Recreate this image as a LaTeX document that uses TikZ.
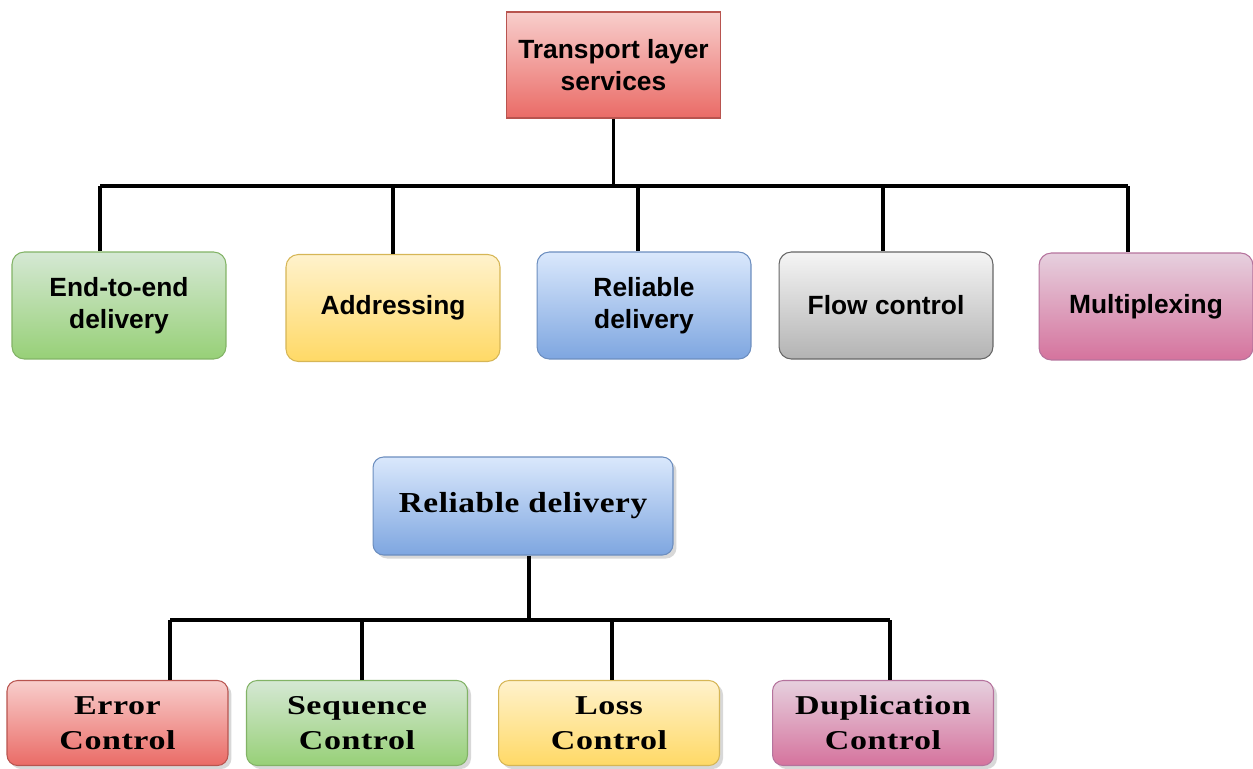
\documentclass[tikz,border=0pt]{standalone}
\usepackage{fontspec}
\setmainfont{Liberation Serif}
\setsansfont{Liberation Sans}
\newfontfamily\subfont[FakeStretch = 1.25, LetterSpace = 2]{Liberation Serif}
\newfontfamily\headfont[FakeStretch = 1.15, LetterSpace = 2]{Liberation Serif}
\usepackage{tikz}
\usetikzlibrary{positioning}
\usetikzlibrary{shadows}
\tikzset{box/.style = {draw, rounded corners = 7pt, line width = 0.6pt, align = center,
    minimum width = 4.28cm, minimum height = 2.14cm, font = \sffamily\bfseries\fontsize{15}{18}\selectfont}}
\tikzset{subbox/.style = {box, minimum width = 4.42cm, minimum height = 1.7cm, rounded corners = 6pt,
    drop shadow = {shadow xshift = 2pt, shadow yshift = -2pt, fill = black!30},
    font = \subfont\bfseries\fontsize{15.5}{20}\selectfont}}
\tikzset{wire/.style = {line width = 1.8pt}}
\definecolor{mred}{rgb}{0.72, 0.33, 0.31}
\definecolor{mredt}{HTML}{F8CECC}
\definecolor{mredb}{HTML}{EA6B66}
\definecolor{mgreen}{HTML}{82B366}
\definecolor{mgreent}{HTML}{D5E8D4}
\definecolor{mgreenb}{HTML}{97D077}
\definecolor{myellow}{HTML}{D6B656}
\definecolor{myellowt}{HTML}{FFF2CC}
\definecolor{myellowb}{HTML}{FFD966}
\definecolor{mblue}{HTML}{6C8EBF}
\definecolor{mbluet}{HTML}{DAE8FC}
\definecolor{mblueb}{HTML}{7EA6E0}
\definecolor{mgray}{HTML}{666666}
\definecolor{mgrayt}{HTML}{F5F5F5}
\definecolor{mgrayb}{HTML}{B3B3B3}
\definecolor{mpink}{HTML}{B5739D}
\definecolor{mpinkt}{HTML}{E6D0DE}
\definecolor{mpinkb}{HTML}{D5739D}

\begin{document}
\begin{tikzpicture}[x = 0.02cm, y = -0.02cm]
      \useasboundingbox (0, 0) rectangle (1253, 768);

      % upper tree
      \node [box, rounded corners = 0pt, draw = mred, top color = mredt, bottom color = mredb,
        minimum height = 2.12cm] (tls) at (613.5, 65) {Transport layer\\services};
      \node [box, draw = mgreen, top color = mgreent, bottom color = mgreenb] (e2e) at (119, 305.5) {End-to-end\\delivery};
      \node [box, draw = myellow, top color = myellowt, bottom color = myellowb] (addr) at (393, 308) {Addressing};
      \node [box, draw = mblue, top color = mbluet, bottom color = mblueb] (rel) at (644, 305.5) {Reliable\\delivery};
      \node [box, draw = mgray, top color = mgrayt, bottom color = mgrayb] (flow) at (886, 305.5) {Flow control};
      \node [box, draw = mpink, top color = mpinkt, bottom color = mpinkb] (mux) at (1146, 306.5) {Multiplexing};

      \coordinate (bus) at (613.5, 186);
      \coordinate (t1) at (100, 186);
      \coordinate (t2) at (393, 186);
      \coordinate (t3) at (638, 186);
      \coordinate (t4) at (883, 186);
      \coordinate (t5) at (1128, 186);
      \draw [wire] (tls.south) -- (bus);
      \draw [wire] (t1) -- (t5);
      \draw [wire] (t1) -- (t1 |- e2e.north);
      \draw [wire] (t2) -- (t2 |- addr.north);
      \draw [wire] (t3) -- (t3 |- rel.north);
      \draw [wire] (t4) -- (t4 |- flow.north);
      \draw [wire] (t5) -- (t5 |- mux.north);

      % lower tree
      \node [subbox, draw = mblue, top color = mbluet, bottom color = mblueb, minimum width = 6cm,
        minimum height = 1.96cm, font = \headfont\bfseries\fontsize{16.5}{20}\selectfont] (relsub) at (523, 506) {Reliable delivery};
      \node [subbox, draw = mred, top color = mredt, bottom color = mredb] (err) at (117.5, 723) {Error\\Control};
      \node [subbox, draw = mgreen, top color = mgreent, bottom color = mgreenb] (seq) at (357, 723) {Sequence\\Control};
      \node [subbox, draw = myellow, top color = myellowt, bottom color = myellowb] (loss) at (609, 723) {Loss\\Control};
      \node [subbox, draw = mpink, top color = mpinkt, bottom color = mpinkb] (dup) at (883, 723) {Duplication\\Control};

      \coordinate (sbus) at (529, 620);
      \coordinate (s1) at (170, 620);
      \coordinate (s2) at (362, 620);
      \coordinate (s3) at (612, 620);
      \coordinate (s4) at (890, 620);
      \draw [wire] (sbus |- relsub.south) -- (sbus);
      \draw [wire] (s1) -- (s4);
      \draw [wire] (s1) -- (s1 |- err.north);
      \draw [wire] (s2) -- (s2 |- seq.north);
      \draw [wire] (s3) -- (s3 |- loss.north);
      \draw [wire] (s4) -- (s4 |- dup.north);
    \end{tikzpicture}
\end{document}
